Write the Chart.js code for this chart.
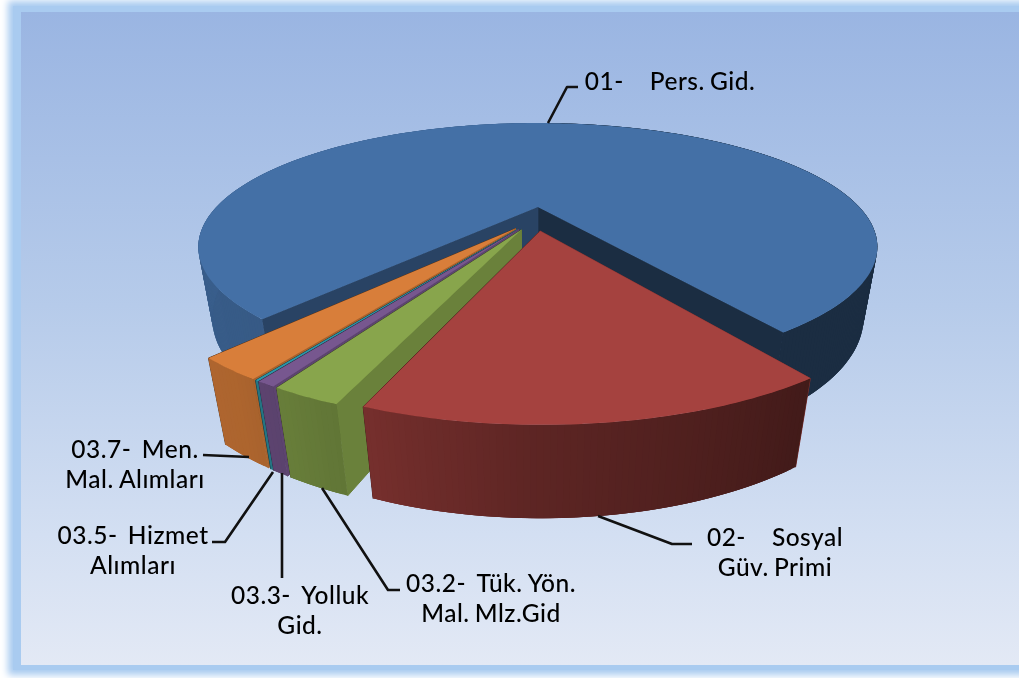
<!DOCTYPE html>
<html>
<head>
<meta charset="utf-8">
<style>
html,body{margin:0;padding:0;width:1019px;height:678px;overflow:hidden;background:#fff}
#glow{position:absolute;left:13px;top:6px;width:1100px;height:664px;background:#a9cbf0;box-shadow:0 0 7px 5px #a9cbf0}
#panel{position:absolute;left:21px;top:12px;right:0;height:653px;background:linear-gradient(180deg,#9ab5e2 0%,#b6cbea 45%,#d3dff2 80%,#e3e9f5 100%)}
canvas{position:absolute;left:0;top:0;filter:blur(0.45px)}
</style>
<script src="https://cdn.jsdelivr.net/npm/chart.js@4"></script>
</head>
<body>
<div id="glow"></div><div id="panel"></div>
<canvas id="c" width="1019" height="678"></canvas>
<script>
// ---- data (share of the pie, %) ----
const categories = ['01- Pers. Gid.', '02- Sosyal Güv. Primi', '03.2- Tük. Yön. Mal. Mlz.Gid', '03.3- Yolluk Gid.', '03.5- Hizmet Alımları', '03.7- Men. Mal. Alımları'];
const values = [79.33, 15.14, 2.36, 0.64, 0.11, 2.39];
const firstLines = ['01-     Pers. Gid.', '02-     Sosyal', '03.2-  Tük. Yön.', '03.3-  Yolluk', '03.5-  Hizmet', '03.7-  Men.'];
const secondLines = ['', 'Güv. Primi', 'Mal. Mlz.Gid', 'Gid.', 'Alımları', 'Mal. Alımları'];

// ---- styles and layout ----
const colors = [[68,112,166],[165,66,63],[136,165,76],[119,87,143],[46,150,168],[216,126,58]];
const startFaceShade = [0.60,0.78,0.78,0.78,0.78,0.78];
const endFaceShade = 0.40;
const labelBox = [[670,82],[775,538],[491,584],[300,596],[133,536],[135,450]];
const lineGap = 30.5;
const leaders = [
  [[548,123],[567,87],[578,87]],
  [[598,516],[672,544],[692,544]],
  [[322,488],[388,590],[400,590]],
  [[282,473],[282,578]],
  [[273,472],[225,542],[212,542]],
  [[249,457],[203,455]]
];
const cam = {ox:538, oy:207, S:321.4, a:0.3226, St:111, Sh:69, b:0.038, cx:-0.006, cy:0.101};
const explode = 0.1015;
const shadeStops = [[0,0.40],[56,0.40],[90,0.56],[110,0.71],[125,0.80],[180,0.85],[270,0.85],[271,0.40],[360,0.40]];

function project(x, y, z){
  const X = x + cam.cx, Y = y + cam.cy;
  const w = 1 - cam.a * Y + cam.b * z;
  return [cam.ox + cam.S * X / w, cam.oy + (cam.St * Y + cam.Sh * z) / w];
}
function rgb(c, k){ return 'rgb(' + c.map(v => Math.round(v * k)).join(',') + ')'; }
function outerShade(rad){
  let d = (rad * 180 / Math.PI) % 360; if (d < 0) d += 360;
  for (let i = 1; i < shadeStops.length; i++){
    const p = shadeStops[i-1], q = shadeStops[i];
    if (d <= q[0]) return p[1] + (q[1]-p[1]) * (d-p[0]) / (q[0]-p[0]);
  }
  return 0.4;
}
function fillPoly(ctx, pts, col, seal){
  ctx.beginPath();
  pts.forEach((p,i) => i ? ctx.lineTo(p[0],p[1]) : ctx.moveTo(p[0],p[1]));
  ctx.closePath();
  ctx.fillStyle = col; ctx.fill();
  if (seal){ ctx.strokeStyle = col; ctx.lineWidth = 1; ctx.stroke(); }
}
function drawSlice(ctx, arc, col, startK){
  const a0 = arc.startAngle, a1 = arc.endAngle, mid = (a0 + a1) / 2;
  const dx = explode * Math.cos(mid), dy = explode * Math.sin(mid);
  const rim = (a, z) => project(dx + Math.cos(a), dy + Math.sin(a), z);
  const hub = z => project(dx, dy, z);
  const step = Math.PI / 240;
  // cut faces, sealed so the wall meets them without a seam
  fillPoly(ctx, [hub(0), rim(a1,0), rim(a1,1), hub(1)], rgb(col, endFaceShade), true);
  fillPoly(ctx, [hub(0), rim(a0,0), rim(a0,1), hub(1)], rgb(col, startK), true);
  // outer wall, overlapping strips so no seams show
  for (let a = a0; a < a1; a += step){
    const b = Math.min(a + 3 * step, a1);
    fillPoly(ctx, [rim(a,0), rim(b,0), rim(b,1), rim(a,1)], rgb(col, outerShade(a + step / 2)));
  }
  // top
  const top = [hub(0)];
  for (let a = a0; a < a1; a += step) top.push(rim(a,0));
  top.push(rim(a1,0));
  fillPoly(ctx, top, rgb(col, 1));
}
const pie3d = {
  id: 'pie3d',
  beforeDatasetsDraw(chart){
    const ctx = chart.ctx, arcs = chart.getDatasetMeta(0).data;
    ctx.save();
    // far slice first, the front ones last
    const order = [0, 5, 4, 3, 2, 1];
    order.forEach(i => drawSlice(ctx, arcs[i], colors[i], startFaceShade[i]));
    // leader lines
    ctx.strokeStyle = '#111'; ctx.lineWidth = 2.6; ctx.lineJoin = 'round';
    leaders.forEach(l => {
      ctx.beginPath();
      l.forEach((p,i) => i ? ctx.lineTo(p[0],p[1]) : ctx.moveTo(p[0],p[1]));
      ctx.stroke();
    });
    // labels
    ctx.fillStyle = '#000';
    ctx.font = '500 24.5px Lato';
    ctx.textAlign = 'center'; ctx.textBaseline = 'middle';
    if ('letterSpacing' in ctx) ctx.letterSpacing = '0.5px';
    if ('wordSpacing' in ctx) ctx.wordSpacing = '-1.5px';
    firstLines.forEach((t,i) => {
      ctx.fillText(t, labelBox[i][0], labelBox[i][1]);
      if (secondLines[i]) ctx.fillText(secondLines[i], labelBox[i][0], labelBox[i][1] + lineGap);
    });
    ctx.restore();
    return false; // the flat arcs are replaced by the projected ones above
  }
};
new Chart(document.getElementById('c'), {
  type: 'pie',
  data: { labels: categories, datasets: [{ data: values, backgroundColor: colors.map(c => rgb(c,1)), borderWidth: 0 }] },
  options: {
    responsive: false, animation: false, rotation: 220.3,
    plugins: { legend: {display:false}, tooltip: {enabled:false} }
  },
  plugins: [pie3d]
});
</script>
</body>
</html>
